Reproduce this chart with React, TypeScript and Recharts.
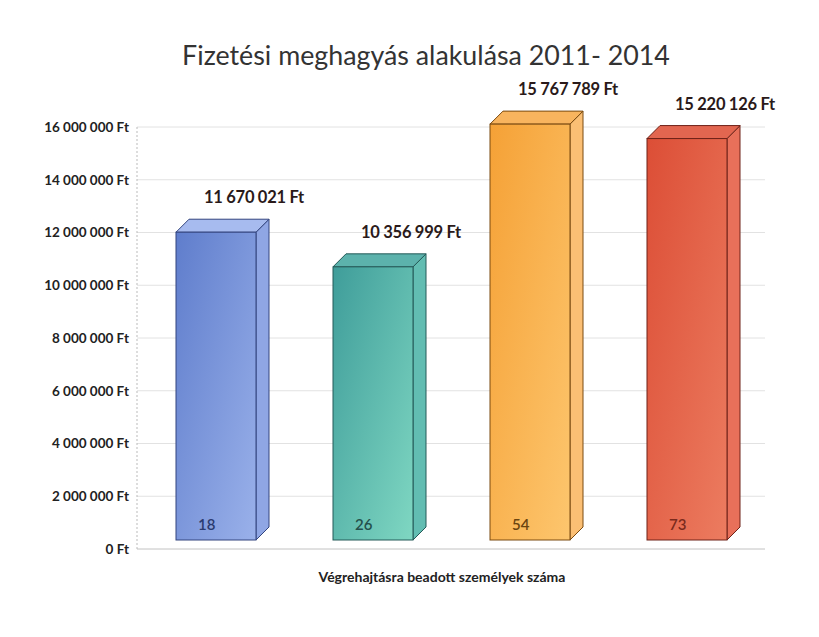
import React from 'react';
import { BarChart, Bar, XAxis, YAxis, CartesianGrid, LabelList } from 'recharts';

const years = ['2011', '2012', '2013', '2014'];
const amounts = [11670021, 10356999, 15767789, 15220126];
const persons = [18, 26, 54, 73];
const yTicks = [0, 2000000, 4000000, 6000000, 8000000, 10000000, 12000000, 14000000, 16000000];
const frontDark = ['#5f7dcc', '#3f9d9a', '#f5a136', '#dc4e36'];
const frontLight = ['#9ab1ea', '#7fd7c2', '#fdc66e', '#ec7c60'];
const sideColors = ['#8fa6e4', '#62bdb2', '#fbbf74', '#e8705a'];
const topColors = ['#a7bbef', '#5cb2ac', '#f8b45e', '#e26650'];
const edgeColors = ['#33457e', '#245a58', '#7a4a10', '#6e2218'];
const personColors = ['#2b3b70', '#24504c', '#6a4410', '#7a2a1c'];

const data = years.map((y, i) => ({ year: y, amount: amounts[i], persons: persons[i], idx: i }));

const fmt = (n: number) => String(n).replace(/\B(?=(\d{3})+(?!\d))/g, ' ') + ' Ft';

const D = 13;
const DY = 13;
const LIFT = 9;

const Box3D = (props: any) => {
  const { x, width, payload } = props;
  let { y, height } = props;
  const i = payload.idx;
  y = y - LIFT;
  const w = width;
  const h = height;
  const gid = `g${i}`;
  return (
    <g>
      <defs>
        <linearGradient id={gid} x1="0" y1="0" x2="1" y2="1">
          <stop offset="0%" stopColor={frontDark[i]} />
          <stop offset="100%" stopColor={frontLight[i]} />
        </linearGradient>
      </defs>
      <polygon
        points={`${x + w},${y} ${x + w + D},${y - DY} ${x + w + D},${y + h - DY} ${x + w},${y + h}`}
        fill={sideColors[i]}
        stroke={edgeColors[i]}
        strokeWidth={1}
      />
      <polygon
        points={`${x},${y} ${x + D},${y - DY} ${x + w + D},${y - DY} ${x + w},${y}`}
        fill={topColors[i]}
        stroke={edgeColors[i]}
        strokeWidth={1}
      />
      <rect x={x} y={y} width={w} height={h} fill={`url(#${gid})`} stroke={edgeColors[i]} strokeWidth={1} />
      <text x={x + 22} y={y + h - 10} fontSize={15} fontFamily="Lato" fontWeight={600} fill={personColors[i]}>
        {payload.persons}
      </text>
    </g>
  );
};

const ValueLabel = (props: any) => {
  const { x, y, width, value } = props;
  return (
    <text
      x={x + width / 2 + 38}
      y={y - LIFT - DY - 16}
      textAnchor="middle"
      fontSize={16.5}
      fontWeight={700}
      fontFamily="Lato"
      fill="#2a1a1a"
      letterSpacing={-0.3}
    >
      {fmt(value)}
    </text>
  );
};

export default function App() {
  return (
    <div style={{ position: 'absolute', left: 0, top: 0, width: 819, height: 637, background: '#fff', fontFamily: 'Lato' }}>
      <div
        style={{
          position: 'absolute',
          left: 0,
          width: 852,
          top: 39,
          textAlign: 'center',
          fontSize: 26.8,
          color: '#333',
          fontFamily: 'Lato',
        }}
      >
        Fizetési meghagyás alakulása 2011- 2014
      </div>
      <div
        style={{
          position: 'absolute',
          left: 0,
          width: 884,
          top: 568,
          textAlign: 'center',
          fontSize: 14,
          fontWeight: 700,
          color: '#222',
          fontFamily: 'Lato',
        }}
      >
        Végrehajtásra beadott személyek száma
      </div>
      <div style={{ position: 'absolute', left: 0, top: 0 }}>
        <BarChart width={819} height={637} data={data} margin={{ top: 127, right: 54, bottom: 58, left: 0 }} barSize={80}>
          <CartesianGrid vertical={false} stroke="#e2e2e2" />
          <XAxis dataKey="year" tick={false} axisLine={{ stroke: '#d0d0d0' }} tickLine={false} height={30} />
          <YAxis
            width={137}
            domain={[0, 16000000]}
            ticks={yTicks}
            tickFormatter={fmt}
            tick={{ fontSize: 13.5, fontWeight: 700, fill: '#222', fontFamily: 'Lato' }}
            axisLine={{ stroke: '#bbb', strokeDasharray: '2 2' }}
            tickLine={false}
            tickMargin={2}
          />
          <Bar dataKey="amount" shape={<Box3D />} isAnimationActive={false}>
            <LabelList dataKey="amount" content={<ValueLabel />} />
          </Bar>
        </BarChart>
      </div>
    </div>
  );
}
